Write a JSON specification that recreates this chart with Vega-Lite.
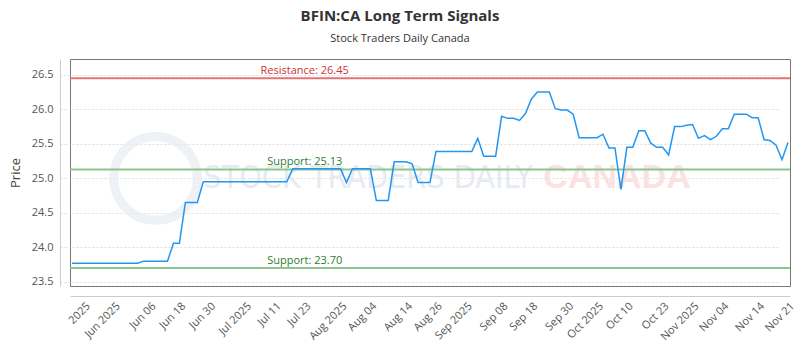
{
  "$schema": "https://vega.github.io/schema/vega-lite/v6.json",
  "width": 720,
  "height": 227,
  "autosize": {"type": "none"},
  "padding": {"left": 70, "top": 59, "right": 10, "bottom": 64},
  "title": {
    "text": "BFIN:CA Long Term Signals",
    "subtitle": "Stock Traders Daily Canada",
    "anchor": "middle",
    "dx": -30,
    "fontSize": 15,
    "fontWeight": "bold",
    "color": "#333333",
    "subtitleFontSize": 11,
    "subtitleColor": "#333333",
    "subtitlePadding": 9,
    "offset": 15,
    "font": "Open Sans",
    "subtitleFont": "Open Sans"
  },
  "config": {
    "font": "Open Sans",
    "view": {"stroke": "#777777", "strokeWidth": 1},
    "axis": {"labelOverlap": false},
    "axisY": {
      "offset": 10,
      "ticks": false,
      "labelOverlap": false,
      "domainColor": "#cccccc",
      "labelColor": "#555555",
      "labelFontSize": 11,
      "labelPadding": 7,
      "grid": true,
      "gridDash": [2, 2],
      "gridColor": "#dddddd",
      "titleFontSize": 13,
      "titleFontWeight": "normal",
      "titleColor": "#444444",
      "titlePadding": 9
    }
  },
  "datasets": {
    "prices": [
      {"date": "2025-06-02", "close": 23.77}, {"date": "2025-06-03", "close": 23.77}, {"date": "2025-06-04", "close": 23.77},
      {"date": "2025-06-05", "close": 23.77}, {"date": "2025-06-06", "close": 23.77}, {"date": "2025-06-09", "close": 23.77},
      {"date": "2025-06-10", "close": 23.77}, {"date": "2025-06-11", "close": 23.77}, {"date": "2025-06-12", "close": 23.77},
      {"date": "2025-06-13", "close": 23.77}, {"date": "2025-06-16", "close": 23.77}, {"date": "2025-06-17", "close": 23.77},
      {"date": "2025-06-18", "close": 23.80}, {"date": "2025-06-19", "close": 23.80}, {"date": "2025-06-20", "close": 23.80},
      {"date": "2025-06-23", "close": 23.80}, {"date": "2025-06-24", "close": 23.80}, {"date": "2025-06-25", "close": 24.06},
      {"date": "2025-06-26", "close": 24.06}, {"date": "2025-06-27", "close": 24.65}, {"date": "2025-06-30", "close": 24.65},
      {"date": "2025-07-02", "close": 24.65}, {"date": "2025-07-03", "close": 24.95}, {"date": "2025-07-04", "close": 24.95},
      {"date": "2025-07-07", "close": 24.95}, {"date": "2025-07-08", "close": 24.95}, {"date": "2025-07-09", "close": 24.95},
      {"date": "2025-07-10", "close": 24.95}, {"date": "2025-07-11", "close": 24.95}, {"date": "2025-07-14", "close": 24.95},
      {"date": "2025-07-15", "close": 24.95}, {"date": "2025-07-16", "close": 24.95}, {"date": "2025-07-17", "close": 24.95},
      {"date": "2025-07-18", "close": 24.95}, {"date": "2025-07-21", "close": 24.95}, {"date": "2025-07-22", "close": 24.95},
      {"date": "2025-07-23", "close": 24.95}, {"date": "2025-07-24", "close": 25.14}, {"date": "2025-07-25", "close": 25.14},
      {"date": "2025-07-28", "close": 25.14}, {"date": "2025-07-29", "close": 25.14}, {"date": "2025-07-30", "close": 25.14},
      {"date": "2025-07-31", "close": 25.14}, {"date": "2025-08-01", "close": 25.14}, {"date": "2025-08-05", "close": 25.14},
      {"date": "2025-08-06", "close": 25.14}, {"date": "2025-08-07", "close": 24.94}, {"date": "2025-08-08", "close": 25.14},
      {"date": "2025-08-11", "close": 25.14}, {"date": "2025-08-12", "close": 25.14}, {"date": "2025-08-13", "close": 25.14},
      {"date": "2025-08-14", "close": 24.68}, {"date": "2025-08-15", "close": 24.68}, {"date": "2025-08-18", "close": 24.68},
      {"date": "2025-08-19", "close": 25.24}, {"date": "2025-08-20", "close": 25.24}, {"date": "2025-08-21", "close": 25.24},
      {"date": "2025-08-22", "close": 25.21}, {"date": "2025-08-25", "close": 24.94}, {"date": "2025-08-26", "close": 24.94},
      {"date": "2025-08-27", "close": 24.94}, {"date": "2025-08-28", "close": 25.39}, {"date": "2025-08-29", "close": 25.39},
      {"date": "2025-09-02", "close": 25.39}, {"date": "2025-09-03", "close": 25.39}, {"date": "2025-09-04", "close": 25.39},
      {"date": "2025-09-05", "close": 25.39}, {"date": "2025-09-08", "close": 25.39}, {"date": "2025-09-09", "close": 25.58},
      {"date": "2025-09-10", "close": 25.32}, {"date": "2025-09-11", "close": 25.32}, {"date": "2025-09-12", "close": 25.32},
      {"date": "2025-09-15", "close": 25.90}, {"date": "2025-09-16", "close": 25.87}, {"date": "2025-09-17", "close": 25.87},
      {"date": "2025-09-18", "close": 25.84}, {"date": "2025-09-19", "close": 25.94}, {"date": "2025-09-22", "close": 26.15},
      {"date": "2025-09-23", "close": 26.25}, {"date": "2025-09-24", "close": 26.25}, {"date": "2025-09-25", "close": 26.25},
      {"date": "2025-09-26", "close": 26.01}, {"date": "2025-09-29", "close": 25.99}, {"date": "2025-09-30", "close": 25.99},
      {"date": "2025-10-01", "close": 25.93}, {"date": "2025-10-02", "close": 25.59}, {"date": "2025-10-03", "close": 25.59},
      {"date": "2025-10-06", "close": 25.59}, {"date": "2025-10-07", "close": 25.59}, {"date": "2025-10-08", "close": 25.64},
      {"date": "2025-10-09", "close": 25.44}, {"date": "2025-10-10", "close": 25.44}, {"date": "2025-10-14", "close": 24.84},
      {"date": "2025-10-15", "close": 25.45}, {"date": "2025-10-16", "close": 25.45}, {"date": "2025-10-17", "close": 25.69},
      {"date": "2025-10-20", "close": 25.69}, {"date": "2025-10-21", "close": 25.51}, {"date": "2025-10-22", "close": 25.45},
      {"date": "2025-10-23", "close": 25.45}, {"date": "2025-10-24", "close": 25.34}, {"date": "2025-10-27", "close": 25.75},
      {"date": "2025-10-28", "close": 25.75}, {"date": "2025-10-29", "close": 25.77}, {"date": "2025-10-30", "close": 25.78},
      {"date": "2025-10-31", "close": 25.58}, {"date": "2025-11-03", "close": 25.62}, {"date": "2025-11-04", "close": 25.56},
      {"date": "2025-11-05", "close": 25.61}, {"date": "2025-11-06", "close": 25.72}, {"date": "2025-11-07", "close": 25.72},
      {"date": "2025-11-10", "close": 25.93}, {"date": "2025-11-11", "close": 25.93}, {"date": "2025-11-12", "close": 25.93},
      {"date": "2025-11-13", "close": 25.88}, {"date": "2025-11-14", "close": 25.88}, {"date": "2025-11-17", "close": 25.56},
      {"date": "2025-11-18", "close": 25.55}, {"date": "2025-11-19", "close": 25.48}, {"date": "2025-11-20", "close": 25.27},
      {"date": "2025-11-21", "close": 25.52}
    ],
    "levels": [
      {"kind": "resistance", "value": 26.45, "label": "Resistance: 26.45"},
      {"kind": "support", "value": 25.13, "label": "Support: 25.13"},
      {"kind": "support", "value": 23.70, "label": "Support: 23.70"}
    ]
  },
  "layer": [
    {
      "data": {"values": [{"mark": "logo"}]},
      "mark": {"type": "point", "shape": "circle", "filled": false, "size": 7000, "stroke": "#e8ecf2", "strokeWidth": 9},
      "encoding": {
        "x": {"datum": "2025-06-20", "type": "ordinal", "title": null},
        "y": {"datum": 25.0, "type": "quantitative", "title": "Price", "scale": {"domain": [23.44, 26.73], "nice": false, "zero": false},
              "axis": {"values": [23.5, 24.0, 24.5, 25.0, 25.5, 26.0, 26.5], "format": ".1f", "labelOverlap": false}}
      }
    },
    {
      "data": {"values": [{"label": "STOCK TRADERS DAILY"}]},
      "mark": {"type": "text", "align": "left", "baseline": "middle", "font": "'DejaVu Sans Condensed', 'Roboto Condensed', Roboto", "fontSize": 32, "color": "#e6ebf2"},
      "encoding": {
        "x": {"datum": "2025-07-03", "type": "ordinal", "title": null},
        "y": {"datum": 25.0, "type": "quantitative", "title": "Price", "scale": {"domain": [23.44, 26.73], "nice": false, "zero": false},
              "axis": {"values": [23.5, 24.0, 24.5, 25.0, 25.5, 26.0, 26.5], "format": ".1f", "labelOverlap": false}},
        "text": {"field": "label"}
      }
    },
    {
      "data": {"values": [{"label": "CANADA"}]},
      "mark": {"type": "text", "align": "left", "baseline": "middle", "font": "Liberation Sans", "fontWeight": "bold", "fontSize": 34, "color": "#fbe2e2"},
      "encoding": {
        "x": {"datum": "2025-09-24", "type": "ordinal", "title": null},
        "y": {"datum": 25.0, "type": "quantitative", "title": "Price", "scale": {"domain": [23.44, 26.73], "nice": false, "zero": false},
              "axis": {"values": [23.5, 24.0, 24.5, 25.0, 25.5, 26.0, 26.5], "format": ".1f", "labelOverlap": false}},
        "text": {"field": "label"}
      }
    },
    {
      "data": {"name": "levels"},
      "mark": {"type": "rule", "strokeWidth": 2},
      "encoding": {
        "y": {"field": "value", "type": "quantitative", "title": "Price", "scale": {"domain": [23.44, 26.73], "nice": false, "zero": false},
              "axis": {"values": [23.5, 24.0, 24.5, 25.0, 25.5, 26.0, 26.5], "format": ".1f", "labelOverlap": false}},
        "color": {"condition": {"test": "datum.kind === 'resistance'", "value": "#e57373"}, "value": "#8cc68c"}
      }
    },
    {
      "data": {"name": "levels"},
      "mark": {"type": "text", "align": "center", "baseline": "bottom", "dy": -2, "fontSize": 11},
      "encoding": {
        "x": {"datum": "2025-07-28", "type": "ordinal", "title": null},
        "y": {"field": "value", "type": "quantitative", "title": "Price", "scale": {"domain": [23.44, 26.73], "nice": false, "zero": false},
              "axis": {"values": [23.5, 24.0, 24.5, 25.0, 25.5, 26.0, 26.5], "format": ".1f", "labelOverlap": false}},
        "text": {"field": "label"},
        "color": {"condition": {"test": "datum.kind === 'resistance'", "value": "#cc3333"}, "value": "#2e7d32"}
      }
    },
    {
      "data": {"name": "prices"},
      "mark": {"type": "line", "color": "#2196f3", "strokeWidth": 1.5},
      "encoding": {
        "x": {
          "field": "date",
          "type": "ordinal",
          "title": null,
          "scale": {"type": "point", "padding": 0.34},
          "axis": {
            "values": ["2025-06-04", "2025-06-11", "2025-06-19", "2025-06-26", "2025-07-04", "2025-07-14", "2025-07-21", "2025-07-28", "2025-08-06", "2025-08-13", "2025-08-21", "2025-08-28", "2025-09-05", "2025-09-15", "2025-09-22", "2025-09-30", "2025-10-07", "2025-10-15", "2025-10-23", "2025-10-30", "2025-11-06", "2025-11-14", "2025-11-21"],
            "labelExpr": "['2025','Jun 2025','Jun 06','Jun 18','Jun 30','Jul 2025','Jul 11','Jul 23','Aug 2025','Aug 04','Aug 14','Aug 26','Sep 2025','Sep 08','Sep 18','Sep 30','Oct 2025','Oct 10','Oct 23','Nov 2025','Nov 04','Nov 14','Nov 21'][indexof(['2025-06-04','2025-06-11','2025-06-19','2025-06-26','2025-07-04','2025-07-14','2025-07-21','2025-07-28','2025-08-06','2025-08-13','2025-08-21','2025-08-28','2025-09-05','2025-09-15','2025-09-22','2025-09-30','2025-10-07','2025-10-15','2025-10-23','2025-10-30','2025-11-06','2025-11-14','2025-11-21'], datum.value)]",
            "labelAngle": -45,
            "labelAlign": "right",
            "labelBaseline": "top",
            "labelFontSize": 11,
            "labelColor": "#555555",
            "labelPadding": 4,
            "labelOverlap": false,
            "ticks": false,
            "grid": false,
            "offset": 10,
            "domainColor": "#cccccc"
          }
        },
        "y": {
          "field": "close",
          "type": "quantitative",
          "title": "Price",
          "scale": {"domain": [23.44, 26.73], "nice": false, "zero": false},
          "axis": {"values": [23.5, 24.0, 24.5, 25.0, 25.5, 26.0, 26.5], "format": ".1f", "labelOverlap": false}
        }
      }
    }
  ]
}
